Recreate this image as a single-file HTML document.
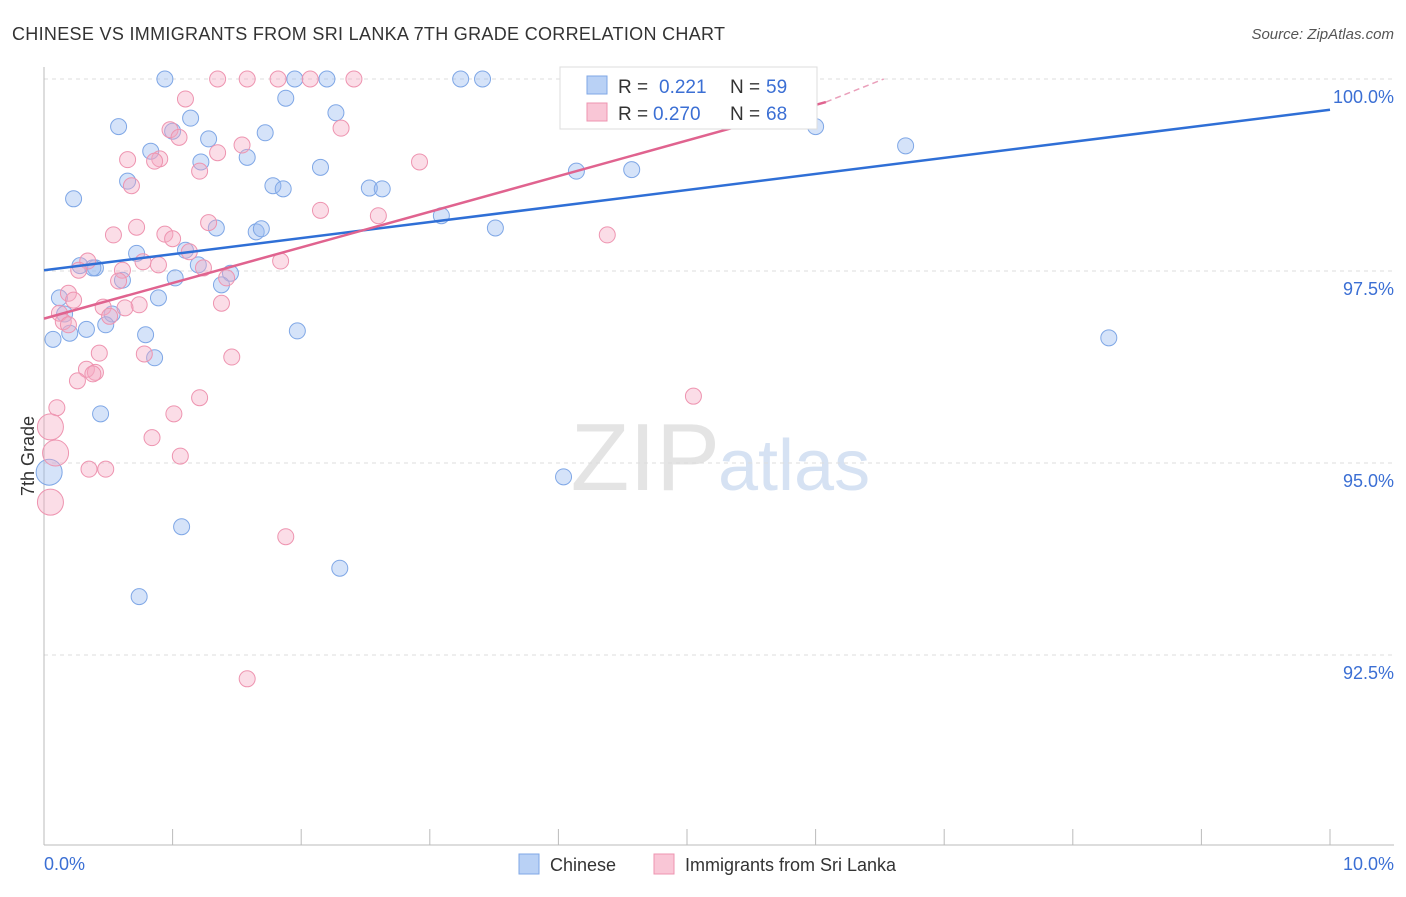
<!DOCTYPE html>
<html><head><meta charset="utf-8"><style>
body{margin:0;background:#fff;font-family:"Liberation Sans",sans-serif}
svg text{font-family:"Liberation Sans",sans-serif}
</style></head><body>
<svg width="1406" height="892" xmlns="http://www.w3.org/2000/svg">
<text x="12" y="40" font-size="18" fill="#333" textLength="713">CHINESE VS IMMIGRANTS FROM SRI LANKA 7TH GRADE CORRELATION CHART</text>
<text x="1394" y="39" font-size="15" fill="#555" font-style="italic" text-anchor="end">Source: ZipAtlas.com</text>
<text x="720" y="490" font-size="96" fill="#e4e4e4" text-anchor="end" font-family="Liberation Serif">ZIP</text>
<text x="718" y="490" font-size="72" fill="#d6e2f3">atlas</text>
<g id="grid"></g><g id="axes"></g><g id="pts"></g><g id="lines"></g>
<text transform="translate(34,456) rotate(-90)" font-size="18" fill="#333" text-anchor="middle">7th Grade</text>
<text x="44" y="870" font-size="18" fill="#3b6fd4">0.0%</text>
<text x="1394" y="870" font-size="18" fill="#3b6fd4" text-anchor="end">10.0%</text>
<g>
<rect x="560" y="67" width="257" height="62" fill="#fff" stroke="#ddd"/>
<rect x="587" y="76" width="20" height="18" fill="#b9d1f5" stroke="#7fa7e6"/>
<text x="618" y="93" font-size="19" fill="#333">R = </text><text x="659" y="93" font-size="19" fill="#3b6fd4">0.221</text>
<text x="730" y="93" font-size="19" fill="#333">N = </text><text x="766" y="93" font-size="19" fill="#3b6fd4">59</text>
<rect x="587" y="103" width="20" height="18" fill="#f9c6d6" stroke="#ee94b0"/>
<text x="618" y="120" font-size="19" fill="#333">R = </text><text x="653" y="120" font-size="19" fill="#3b6fd4">0.270</text>
<text x="730" y="120" font-size="19" fill="#333">N = </text><text x="766" y="120" font-size="19" fill="#3b6fd4">68</text>
</g>
<g><rect x="519" y="854" width="20" height="20" fill="#b9d1f5" stroke="#7fa7e6"/><text x="550" y="871" font-size="18" fill="#333">Chinese</text></g>
<g><rect x="654" y="854" width="20" height="20" fill="#f9c6d6" stroke="#ee94b0"/><text x="685" y="871" font-size="18" fill="#333">Immigrants from Sri Lanka</text></g>
</svg>
<script>
const yTicks=[100,97.5,95,92.5];
const yTickLabels=["100.0%","97.5%","95.0%","92.5%"];
const blueX=[0.94,1.95,2.20,3.24,3.41,1.88,2.27,1.14,0.58,1.72,1.28,1.00,0.83,1.58,1.22,2.15,0.23,0.65,1.78,1.86,2.53,2.63,3.09,3.51,4.14,4.57,6.00,6.70,1.34,1.65,1.69,0.72,1.10,0.28,0.40,0.38,1.20,1.02,0.61,1.45,1.38,0.12,0.89,0.16,0.53,0.48,0.33,0.79,1.97,0.07,0.20,0.86,8.28,0.44,0.04,4.04,1.07,2.30,0.74];
const blueY=[100,100,100,100,100,99.75,99.56,99.49,99.38,99.30,99.22,99.32,99.06,98.98,98.92,98.85,98.44,98.67,98.61,98.57,98.58,98.57,98.22,98.06,98.80,98.82,99.38,99.13,98.06,98.01,98.05,97.73,97.77,97.57,97.54,97.54,97.58,97.41,97.38,97.47,97.32,97.15,97.15,96.94,96.94,96.80,96.74,96.67,96.72,96.61,96.69,96.37,96.63,95.64,94.88,94.82,94.17,93.63,93.26];
const pinkX=[1.35,1.58,1.82,2.07,2.41,1.10,0.98,1.05,2.31,1.54,1.35,0.65,0.90,0.86,2.92,1.21,0.68,2.15,2.60,1.28,0.72,0.54,4.38,0.94,1.00,1.13,0.34,0.77,0.89,1.84,1.24,0.27,0.61,0.58,1.42,0.19,0.23,1.38,0.46,0.74,0.63,0.12,0.51,0.15,0.19,0.43,0.78,1.46,0.33,0.40,0.38,0.26,1.21,5.05,0.10,1.01,0.05,0.84,0.09,1.06,0.35,0.48,0.05,1.88,1.58];
const pinkY=[100,100,100,100,100,99.74,99.34,99.24,99.36,99.14,99.04,98.95,98.96,98.93,98.92,98.80,98.61,98.29,98.22,98.13,98.07,97.97,97.97,97.98,97.92,97.75,97.63,97.62,97.58,97.63,97.54,97.51,97.51,97.37,97.41,97.21,97.12,97.08,97.03,97.06,97.02,96.95,96.91,96.84,96.80,96.43,96.42,96.38,96.22,96.18,96.16,96.07,95.85,95.87,95.72,95.64,95.47,95.33,95.13,95.09,94.92,94.92,94.49,94.04,92.19];
const blueBig=[54];
const pinkBig=[56,58,62];
const blueTrend=[97.51,99.60];
const pinkTrend=[96.88,99.70,100];
const pinkTrendX=[0,6.08,6.53];
const NS="http://www.w3.org/2000/svg";
const sx=v=>44+v/10*1286;
const sy=v=>79+(100-v)/2.5*192;
function mk(t,a,p){const e=document.createElementNS(NS,t);for(const k in a)e.setAttribute(k,a[k]);p.appendChild(e);return e;}
const grid=document.getElementById('grid'),axes=document.getElementById('axes'),pts=document.getElementById('pts'),lines=document.getElementById('lines');
yTicks.forEach((t,i)=>{
 const l=mk('line',{x1:44,x2:1394,y1:sy(t),y2:sy(t),stroke:'#ddd','stroke-dasharray':'4,4'},grid);
 
 
 const tx=mk('text',{x:1394,y:sy(t)+24,'font-size':18,fill:'#3b6fd4','text-anchor':'end'},grid);
 tx.textContent=yTickLabels[i];
 
 
});
const ax=mk('line',{x1:44,x2:1394,y1:845,y2:845,stroke:'#bbb'},axes);


const ay=mk('line',{x1:44,x2:44,y1:67,y2:845,stroke:'#bbb'},axes);


for(let i=0;i<=10;i++){const t=mk('line',{x1:sx(i),x2:sx(i),y1:829,y2:845,stroke:'#bbb'},axes);
 
 }
blueX.forEach((x,i)=>{const c=mk('circle',{cx:sx(x),cy:sy(blueY[i]),r:blueBig.includes(i)?13:8,fill:'rgba(150,185,240,0.4)',stroke:'#7fa7e6','stroke-width':1},pts);
 
 });
pinkX.forEach((x,i)=>{const c=mk('circle',{cx:sx(x),cy:sy(pinkY[i]),r:pinkBig.includes(i)?13:8,fill:'rgba(245,170,195,0.4)',stroke:'#ee94b0','stroke-width':1},pts);
 
 });
const bl=mk('line',{x1:sx(0),y1:sy(blueTrend[0]),x2:sx(10),y2:sy(blueTrend[1]),stroke:'#2f6fd6','stroke-width':2.5},lines);


const pl=mk('line',{x1:sx(pinkTrendX[0]),y1:sy(pinkTrend[0]),x2:sx(pinkTrendX[1]),y2:sy(pinkTrend[1]),stroke:'#e0638f','stroke-width':2.5},lines);


const pd=mk('line',{x1:sx(pinkTrendX[1]),y1:sy(pinkTrend[1]),x2:sx(pinkTrendX[2]),y2:sy(pinkTrend[2]),stroke:'#eaa0bb','stroke-width':1.5,'stroke-dasharray':'6,4'},lines);


</script>
</body></html>
